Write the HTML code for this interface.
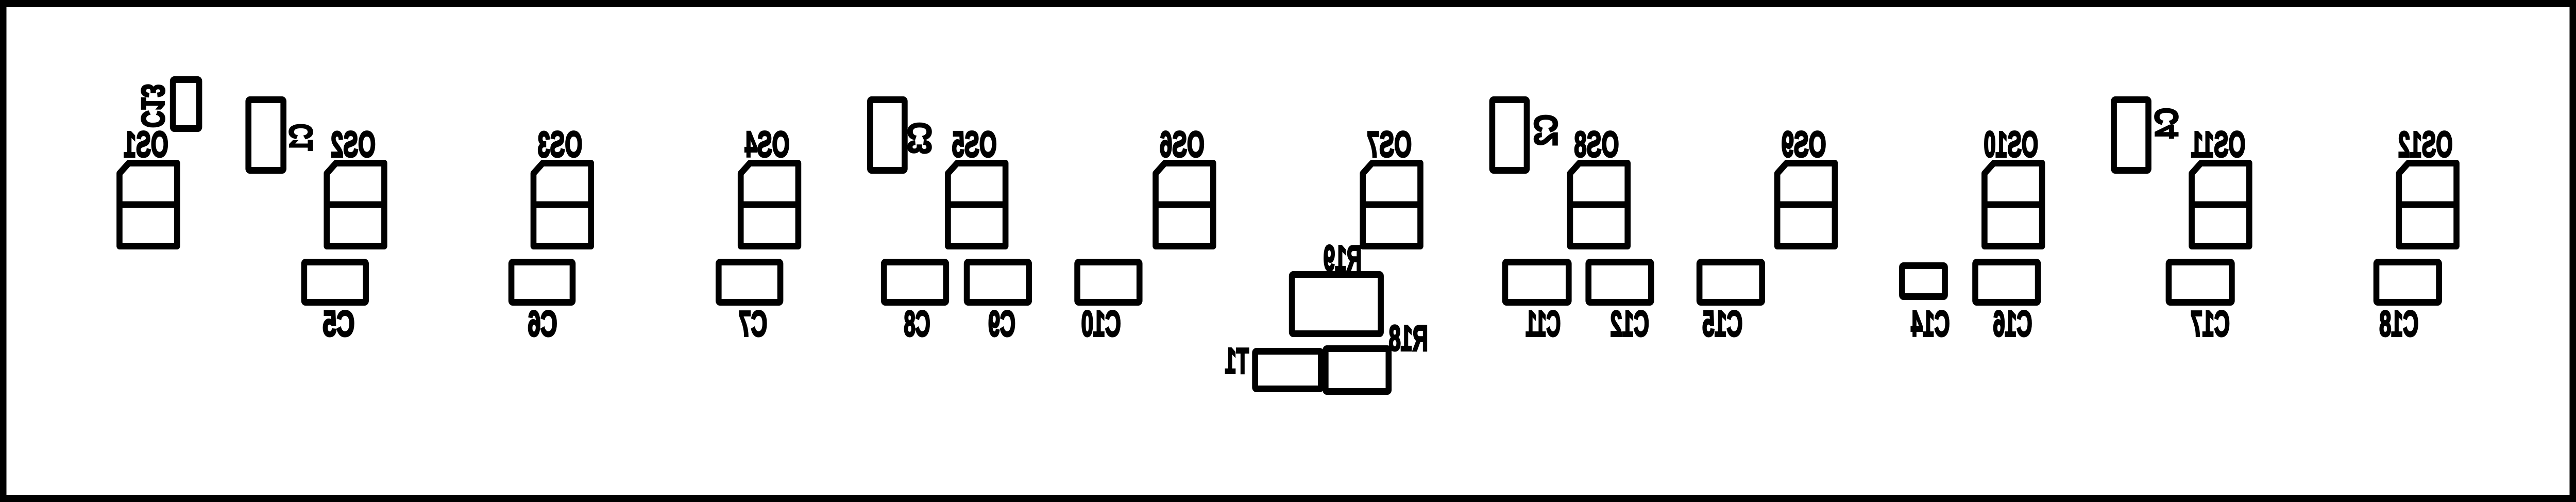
<!DOCTYPE html>
<html><head><meta charset="utf-8"><title>PCB silkscreen</title>
<style>
html,body{margin:0;padding:0;background:#fff;width:100%;height:100%;overflow:hidden;}
svg{display:block;position:absolute;left:0;top:0;width:100vw;height:100vh;}
text{font-family:"Liberation Sans","DejaVu Sans",sans-serif;font-weight:bold;font-size:70px;fill:#000;stroke:#000;stroke-width:4px;}
</style></head>
<body>
<svg id="pcb" xmlns="http://www.w3.org/2000/svg" viewBox="0 0 5594 974" preserveAspectRatio="none">
<rect x="7" y="7" width="5580" height="960" fill="none" stroke="#000" stroke-width="14"/>
</svg>
<script>
const NS='http://www.w3.org/2000/svg';
const svg=document.getElementById('pcb');
const SW=13;
// OS displays: name, outer-left x
const osNames=['OS1','OS2','OS3','OS4','OS5','OS6','OS7','OS8','OS9','OS10','OS11','OS12'];
const osX=[253,703,1152,1602,2052,2503,2953,3403,3853,4303,4753,5203];
// rectangular parts: name, x1, y1, x2, y2
const parts=[
 ['C13',369,148,439,256],['C1',533,187,622,337],['C3',1883,187,1971,337],
 ['C2',3234,187,3322,337],['C4',4584,187,4672,337],
 ['C5',654,502,801,593],['C6',1104,502,1250,593],['C7',1554,502,1701,593],
 ['C8',1913,502,2061,593],['C9',2093,502,2241,593],['C10',2333,502,2481,593],
 ['C11',3262,502,3413,593],['C12',3443,502,3592,593],['C15',3684,502,3833,593],
 ['C14',4124,509,4230,582],['C16',4283,502,4432,593],['C17',4703,502,4853,593],
 ['C18',5154,502,5303,593],
 ['R19',2799,526,3005,654],['R18',2872,670,3022,766],['T1',2719,675,2875,761]
];
// horizontal labels: text, x1, x2, baseline
const labels=[
 ['C5',701,770,652],['C6',1146,1210,652],['C7',1604,1666,652],['C8',1963,2020,652],
 ['C9',2146,2205,652],['C10',2348,2434,652],['C11',3313,3389,652],['C12',3497,3581,652],
 ['C15',3697,3784,652],['C14',4150,4234,652],['C16',4328,4413,652],['C17',4757,4842,652],
 ['C18',5167,5252,652],['R19',2874,2957,525],['R18',3016,3101,680],['T1',2660,2712,724]
];
// rotated labels: text, x1, y1, x2, y2, angle
const rlabels=[
 ['C13',304,163,359,248,90],['C1',629,240,679,293,-90],['C3',1971,237,2025,299,-90],
 ['C2',3331,222,3385,283,-90],['C4',4681,209,4730,268,-90]
];

function mkText(str,cx,y,len){
  const t=document.createElementNS(NS,'text');
  t.textContent=str;
  t.setAttribute('text-anchor','middle');
  t.setAttribute('textLength',len);
  t.setAttribute('lengthAdjust','spacingAndGlyphs');
  t.setAttribute('x',0);t.setAttribute('y',0);
  t.setAttribute('transform','translate('+cx+','+y+') scale(-1,1)');
  return t;
}

osNames.forEach((n,i)=>{
  const x=osX[i], w=138, y1=310, y2=484, h=SW/2, c=20;
  const p=document.createElementNS(NS,'path');
  p.setAttribute('d','M'+(x+h)+','+(y1+h+c)+' L'+(x+h+c)+','+(y1+h)+' L'+(x+w-h)+','+(y1+h)+' L'+(x+w-h)+','+(y2-h)+' L'+(x+h)+','+(y2-h)+' Z M'+(x+h)+',397 L'+(x+w-h)+',397');
  p.setAttribute('fill','none');p.setAttribute('stroke','#000');p.setAttribute('stroke-width',SW);
  p.setAttribute('stroke-linejoin','round');
  
  
  svg.appendChild(p);
  const cx=x+w/2-5;
  const t=mkText(n,cx,304,n.length>3?118:97);
  
  
  svg.appendChild(t);
});

parts.forEach(pr=>{
  const r=document.createElementNS(NS,'rect');
  r.setAttribute('x',pr[1]+SW/2);r.setAttribute('y',pr[2]+SW/2);
  r.setAttribute('width',pr[3]-pr[1]-SW);r.setAttribute('height',pr[4]-pr[2]-SW);
  r.setAttribute('rx',3);
  r.setAttribute('fill','none');r.setAttribute('stroke','#000');r.setAttribute('stroke-width',SW);
  
  
  svg.appendChild(r);
});

labels.forEach(l=>{
  const t=mkText(l[0],(l[1]+l[2])/2,l[3],l[2]-l[1]);
  
  
  svg.appendChild(t);
});

rlabels.forEach(l=>{
  const t=document.createElementNS(NS,'text');
  t.textContent=l[0];
  t.setAttribute('text-anchor','middle');
  t.setAttribute('dominant-baseline','central');
  t.setAttribute('textLength',l[4]-l[2]);
  t.setAttribute('lengthAdjust','spacingAndGlyphs');
  t.setAttribute('x',0);t.setAttribute('y',0);
  t.setAttribute('transform','translate('+((l[1]+l[3])/2)+','+((l[2]+l[4])/2)+') rotate('+l[5]+') scale(-1,1)');
  
  
  svg.appendChild(t);
});
</script>
</body></html>
